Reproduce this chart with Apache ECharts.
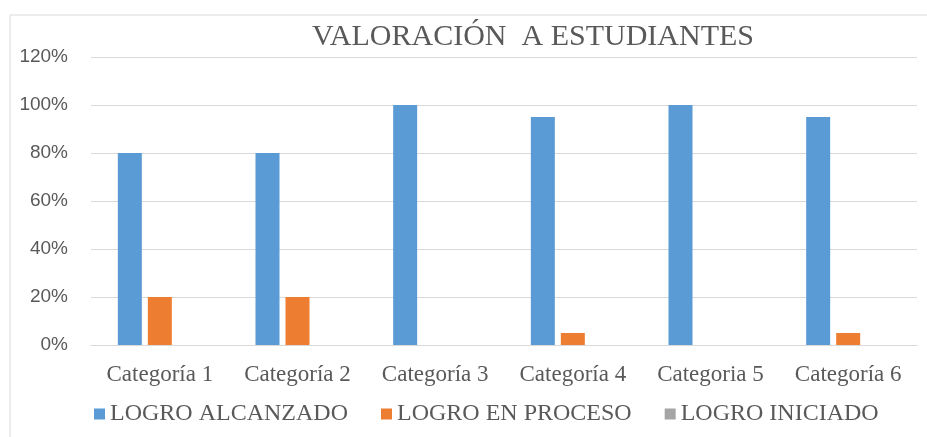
<!DOCTYPE html>
<html>
<head>
<meta charset="utf-8">
<script src="https://cdn.jsdelivr.net/npm/echarts@6/dist/echarts.min.js"></script>
<style>
  html, body { margin: 0; padding: 0; background: #fff; }
  #container { width: 927px; height: 437px; }
</style>
</head>
<body>
<div id="container"></div>
<script>
    const categories = ['Categoría 1', 'Categoría 2', 'Categoría 3', 'Categoría 4', 'Categoria 5', 'Categoría 6'];
    const logroAlcanzado = [0.80, 0.80, 1.00, 0.95, 1.00, 0.95];
    const logroEnProceso = [0.20, 0.20, 0, 0.05, 0, 0.05];
    const logroIniciado = [0, 0, 0, 0, 0, 0];

    let dom = document.getElementById("container");
    let myChart = echarts.init(dom);

    const serif = "'Liberation Serif', 'Times New Roman', serif";
    const textColor = '#595959';

    let option = {
        animation: false,
        graphic: [
            {
                type: 'rect',
                shape: { x: 10, y: 15, width: 940, height: 440 },
                style: { fill: 'none', stroke: '#d9d9d9', lineWidth: 1 }
            }
        ],
        title: {
            text: 'VALORACIÓN  A ESTUDIANTES',
            left: 528,
            top: 17,
            textAlign: 'center',
            textStyle: {
                fontFamily: serif,
                fontWeight: 'normal',
                fontSize: 30,
                color: textColor
            }
        },
        legend: {
            left: 89,
            top: 397,
            itemWidth: 11,
            itemHeight: 11,
            itemGap: 33,
            icon: 'rect',
            textStyle: {
                fontFamily: serif,
                fontSize: 24,
                color: textColor
            },
            data: ['LOGRO ALCANZADO', 'LOGRO EN PROCESO', 'LOGRO INICIADO']
        },
        grid: {
            left: 91,
            right: 10,
            top: 57,
            bottom: 92
        },
        xAxis: {
            type: 'category',
            data: categories,
            axisLine: { lineStyle: { color: '#d9d9d9', width: 1 } },
            axisTick: { show: false },
            axisLabel: {
                interval: 0,
                hideOverlap: false,
                margin: 18,
                fontFamily: serif,
                fontSize: 23,
                color: textColor
            }
        },
        yAxis: {
            type: 'value',
            min: 0,
            max: 1.2,
            interval: 0.2,
            axisLine: { show: false },
            axisTick: { show: false },
            splitLine: { lineStyle: { color: '#d9d9d9', width: 1 } },
            axisLabel: {
                margin: 23,
                fontFamily: "'Liberation Sans', Arial, sans-serif",
                fontSize: 19,
                color: textColor,
                formatter: v => Math.round(v * 100) + '%'
            }
        },
        series: [
            {
                name: 'LOGRO ALCANZADO',
                type: 'bar',
                barWidth: 24,
                barGap: '25%',
                itemStyle: { color: '#5b9bd5' },
                data: logroAlcanzado
            },
            {
                name: 'LOGRO EN PROCESO',
                type: 'bar',
                barWidth: 24,
                barGap: '25%',
                itemStyle: { color: '#ed7d31' },
                data: logroEnProceso
            },
            {
                name: 'LOGRO INICIADO',
                type: 'bar',
                barWidth: 24,
                barGap: '25%',
                itemStyle: { color: '#a5a5a5' },
                data: logroIniciado
            }
        ]
    };
    myChart.setOption(option);
</script>
</body>
</html>
